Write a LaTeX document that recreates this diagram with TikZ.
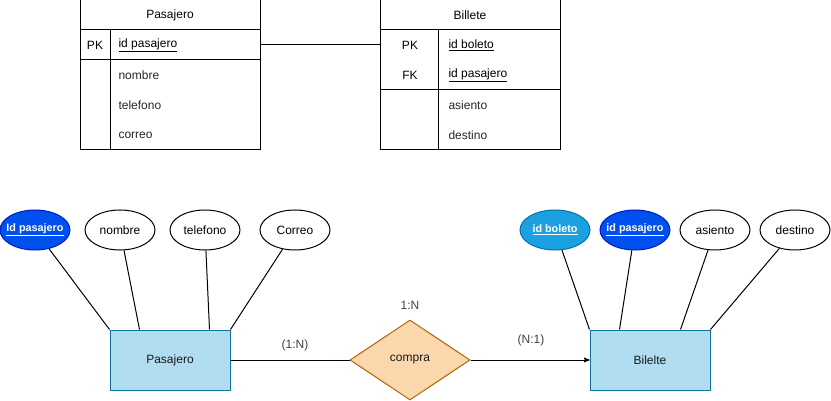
\documentclass[tikz,border=0pt]{standalone}
\usepackage{fontspec}
\setmainfont{Liberation Sans}
\usetikzlibrary{shapes,arrows,positioning}
\definecolor{entfill}{HTML}{B1DDF0}
\definecolor{entline}{HTML}{10739E}
\definecolor{relfill}{HTML}{FAD7AC}
\definecolor{relline}{HTML}{B46504}
\definecolor{pkfill}{HTML}{0050EF}
\definecolor{pkline}{HTML}{001DBC}
\definecolor{bofill}{HTML}{1BA1E2}
\definecolor{boline}{HTML}{006EAF}
\newcommand{\etq}[1]{\makebox[0pt]{#1}}

\begin{document}
\begin{tikzpicture}[x=1pt,y=-1pt,>=stealth',line width=1pt,font=\fontsize{12}{14}\selectfont,
  tbl/.style={draw,rectangle,minimum width=180pt,inner sep=0pt,outer sep=0pt},
  fld/.style={anchor=west,inner sep=0pt,text=black!85},
  attr/.style={draw,ellipse,minimum width=70pt,minimum height=40pt,inner sep=0pt},
  key/.style={attr,fill=pkfill,draw=pkline,text=white,font=\fontsize{10.8}{13}\selectfont\bfseries},
  ent/.style={draw=entline,fill=entfill,rectangle,minimum width=120pt,minimum height=60pt,text=black!90},
  rel/.style={draw=relline,fill=relfill,diamond,minimum width=120pt,minimum height=80pt,inner sep=0pt,text=black!90},
  lbl/.style={text=black!75}]
\useasboundingbox (0,0) rectangle (831,401);

\node[tbl,minimum height=30pt](th1) at (170,15) {Pasajero};
\node[tbl,minimum height=30pt,below=0pt of th1](tk1) {};
\node[tbl,minimum height=90pt,below=0pt of tk1](tb1) {};
\draw ([xshift=30pt]tk1.north west) -- ([xshift=30pt]tb1.south west);
\node(k1) at (95,45) {PK};
\node[fld,text=black](f1) at (118,45) {\underline{id pasajero}};
\node[fld](f2) at (118,75) {nombre};
\node[fld](f3) at (118,105) {telefono};
\node[fld](f4) at (118,135) {correo};

\node[tbl,minimum height=30pt](th2) at (470,15) {Billete};
\node[tbl,minimum height=60pt,below=0pt of th2](tk2) {};
\node[tbl,minimum height=60pt,below=0pt of tk2](tb2) {};
\draw ([xshift=58pt]tk2.north west) -- ([xshift=58pt]tb2.south west);
\node(k2) at (410,45) {PK};
\node(k3) at (410,75) {FK};
\node[fld,text=black](g1) at (448,45) {\underline{id boleto}};
\node[fld,text=black](g2) at (448,75) {\underline{id pasajero}};
\node[fld](g3) at (448,105) {asiento};
\node[fld](g4) at (448,135) {destino};

\draw (tk1) -- (tk1 -| tk2.west);

\node[key](p1) at (35,230) {\etq{\underline{Id pasajero}}};
\node[attr](p2) at (120,230) {\etq{nombre}};
\node[attr](p3) at (205,230) {\etq{telefono}};
\node[attr](p4) at (295,230) {\etq{Correo}};
\node[ent](pas) at (170,360) {Pasajero};

\node[rel](com) at (410,360) {compra};
\node[ent](bil) at (650,360) {Bilelte};

\node[key,fill=bofill,draw=boline](b1) at (555,230) {\etq{\underline{id boleto}}};
\node[key](b2) at (635,230) {\etq{\underline{id pasajero}}};
\node[attr](b3) at (715,230) {\etq{asiento}};
\node[attr](b4) at (795,230) {\etq{destino}};

\draw (p1) -- (pas.north west);
\draw (p2) -- ([xshift=30pt]pas.north west);
\draw (p3) -- ([xshift=100pt]pas.north west);
\draw (p4) -- (pas.north east);
\draw (b1) -- (bil.north west);
\draw (b2) -- ([xshift=30pt]bil.north west);
\draw (b3) -- ([xshift=91pt]bil.north west);
\draw (b4) -- (bil.north east);

\draw (pas) -- (com);
\draw[->] (com) -- (bil);

\node[lbl](l1) at (410,305) {1:N};
\node[lbl](l2) at (295,345) {(1:N)};
\node[lbl](l3) at (531,340) {(N:1)};
\end{tikzpicture}
\end{document}
